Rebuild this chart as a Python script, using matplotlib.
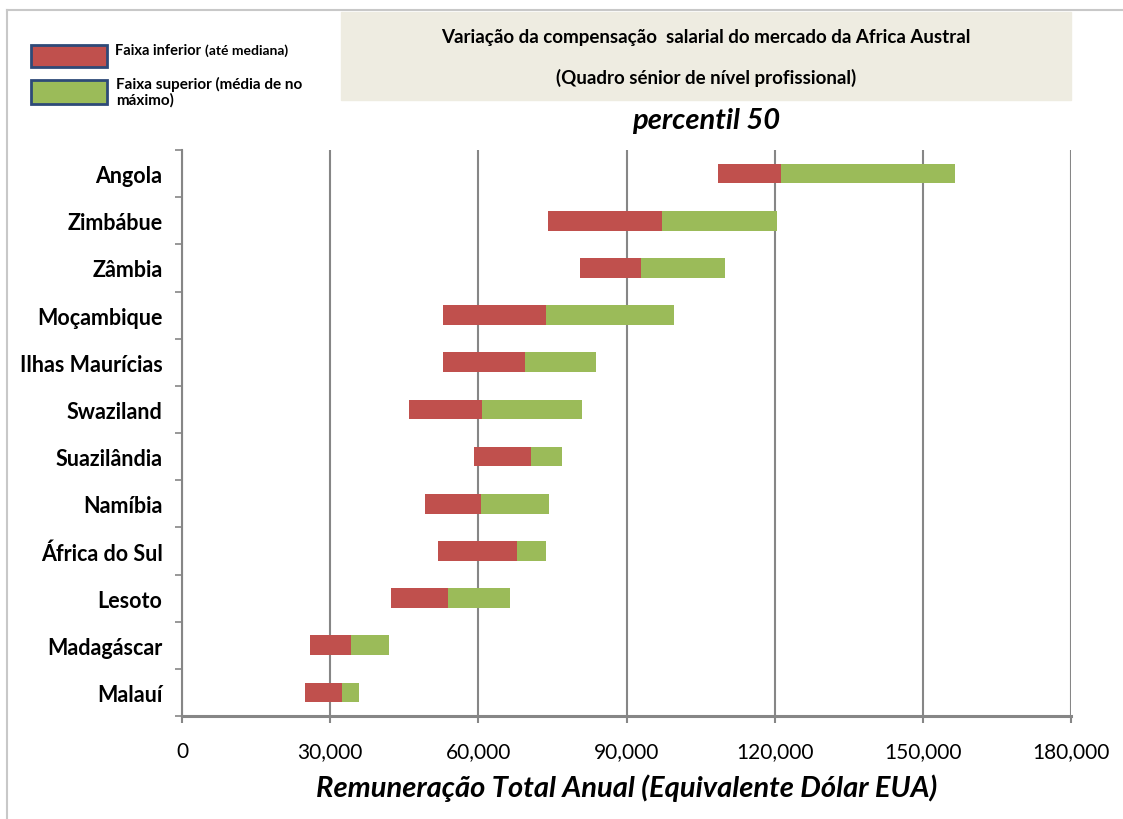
import numpy as np
import matplotlib
matplotlib.use('Agg')
import matplotlib.pyplot as plt
from matplotlib.patches import Rectangle
from matplotlib.lines import Line2D
from matplotlib.ticker import FuncFormatter, FixedLocator

plt.rcParams['font.family'] = ['Lato', 'DejaVu Sans']

# dados
paises = ['Angola', 'Zimbábue', 'Zâmbia', 'Moçambique', 'Ilhas Maurícias', 'Swaziland',
          'Suazilândia', 'Namíbia', 'África do Sul', 'Lesoto', 'Madagáscar', 'Malauí']
inicio = [108600, 74200, 80600, 52800, 52800, 45900, 59100, 49200, 51900, 42400, 26000, 25000]
mediana = [121200, 97100, 93000, 73600, 69400, 60700, 70600, 60600, 67900, 53900, 34200, 32400]
maximo = [156500, 120500, 109900, 99700, 83800, 81000, 76900, 74400, 73700, 66400, 41900, 35900]
xticks = [0, 30000, 60000, 90000, 120000, 150000, 180000]

vermelho = '#C0504D'
verde = '#9BBB59'
cinza = '#868686'

inicio = np.array(inicio)
mediana = np.array(mediana)
maximo = np.array(maximo)
y = np.arange(len(paises))

fig = plt.figure(figsize=(11.23, 8.2), dpi=100)
ax = fig.add_axes([182 / 1123, 1 - 717 / 820, 889 / 1123, 566 / 820])

ax.barh(y, mediana - inicio, left=inicio, height=0.42, color=vermelho, zorder=3)
ax.barh(y, maximo - mediana, left=mediana, height=0.42, color=verde, zorder=3)

ax.set_xlim(0, 180000)
ax.set_ylim(len(paises) - 0.5, -0.5)
ax.set_xticks(xticks)
ax.xaxis.set_major_formatter(FuncFormatter(lambda v, p: f'{int(v):,}'))
ax.grid(axis='x', color=cinza, linewidth=1.5, zorder=0)
ax.set_axisbelow(True)

ax.set_yticks(y)
ax.set_yticklabels(paises, fontsize=15.5, fontweight='bold')
ax.yaxis.set_minor_locator(FixedLocator(np.arange(-0.5, len(paises), 1.0)))
ax.tick_params(axis='y', which='major', length=0, pad=14)
ax.tick_params(axis='y', which='minor', length=5, width=1.2, color=cinza)
ax.tick_params(axis='x', length=5, width=1.5, color=cinza, labelsize=15, pad=13)

for s in ['top', 'right']:
    ax.spines[s].set_visible(False)
ax.spines['left'].set_color(cinza)
ax.spines['left'].set_linewidth(1.5)
ax.spines['bottom'].set_color(cinza)
ax.spines['bottom'].set_linewidth(2.2)

ax.set_xlabel('Remuneração Total Anual (Equivalente Dólar EUA)', fontsize=21,
              fontweight='bold', fontstyle='italic', labelpad=9)

# caixa do título
fig.add_artist(Rectangle((341 / 1123, 1 - 101 / 820), 730 / 1123, 88 / 820,
                         transform=fig.transFigure, color='#EEECE1', zorder=0))
fig.text(706 / 1123, 1 - 37 / 820, 'Variação da compensação  salarial do mercado da Africa Austral',
         ha='center', va='center', fontsize=13.5, fontweight='bold')
fig.text(706 / 1123, 1 - 78 / 820, '(Quadro sénior de nível profissional)',
         ha='center', va='center', fontsize=13.5, fontweight='bold')
fig.text(706 / 1123, 1 - 121 / 820, 'percentil 50', ha='center', va='center',
         fontsize=21, fontweight='bold', fontstyle='italic')

# legenda
fig.add_artist(Rectangle((31 / 1123, 1 - 68 / 820), 76 / 1123, 22 / 820,
                         transform=fig.transFigure, facecolor=vermelho,
                         edgecolor='#2E4A78', linewidth=2))
fig.add_artist(Rectangle((31 / 1123, 1 - 105 / 820), 76 / 1123, 24 / 820,
                         transform=fig.transFigure, facecolor=verde,
                         edgecolor='#2E4A78', linewidth=2))
t1 = fig.text(115 / 1123, 1 - 51 / 820, 'Faixa inferior ', va='center',
              fontsize=10.5, fontweight='bold')
ax.annotate('(até mediana)', xy=(1, 0.5), xycoords=t1, va='center',
            fontsize=10, fontweight='bold')
fig.text(116 / 1123, 1 - 77 / 820, 'Faixa superior (média de no\nmáximo)', va='top',
         fontsize=11, fontweight='bold', linespacing=1.1)

# moldura externa (só topo e esquerda)
fig.add_artist(Line2D([7 / 1123, 1], [1 - 11 / 820, 1 - 11 / 820],
                      transform=fig.transFigure, color='#C8C8C8', linewidth=1.5))
fig.add_artist(Line2D([7 / 1123, 7 / 1123], [0, 1 - 11 / 820],
                      transform=fig.transFigure, color='#C8C8C8', linewidth=1.5))

fig.savefig('out.png', dpi=100)
